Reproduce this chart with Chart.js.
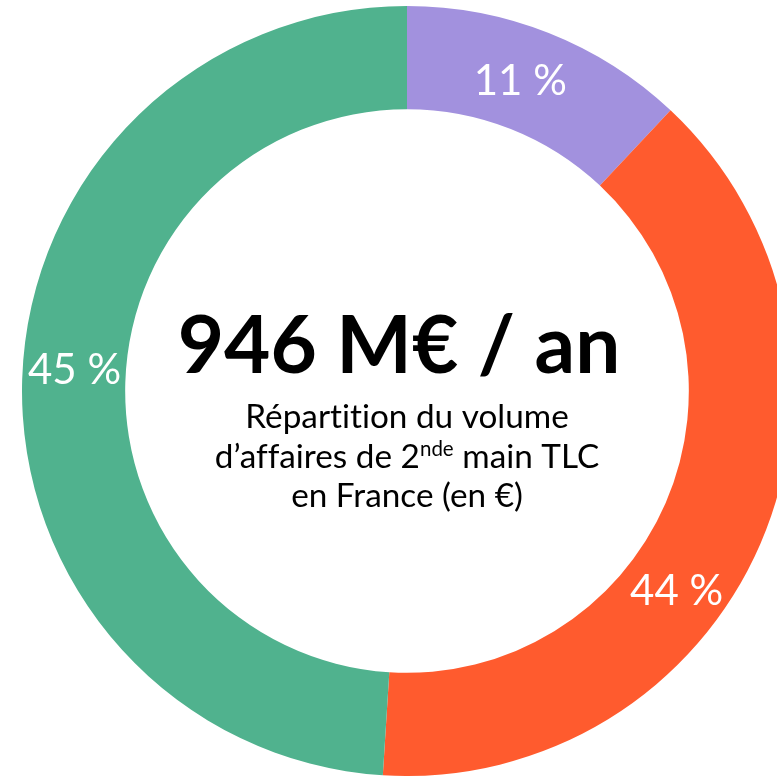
<!DOCTYPE html>
<html><head><meta charset="utf-8">
<script src="https://cdn.jsdelivr.net/npm/chart.js@4/dist/chart.umd.min.js"></script>
<style>
html,body{margin:0;padding:0;background:#fff;overflow:hidden;width:777px;height:777px;}
#wrap{position:absolute;left:22px;top:6px;width:770px;height:770px;}
</style></head>
<body>
<div id="wrap"><canvas id="c" width="770" height="770"></canvas></div>
<script>
const categories = ["Segment A", "Segment B", "Segment C"];
const values = [12, 39, 49];           // arc sizes as drawn
const labelTexts = ["11 %", "44 %", "45 %"]; // printed labels
const colors = ["#A291DE", "#FF5B2E", "#50B28E"];
const labelPos = [0.46, 0.59, 0.514];  // fraction along each arc
const title = "946 M€ / an";
const subtitleLines = ["Répartition du volume", ["d’affaires de 2", "nde", " main TLC"], "en France (en €)"];

const centerText = {
  id: 'centerText',
  afterDraw(chart) {
    const ctx = chart.ctx;
    const meta = chart.getDatasetMeta(0);
    const arc0 = meta.data[0];
    const cx = arc0.x, cy = arc0.y;
    ctx.save();
    ctx.letterSpacing = '0.01px';
    // segment labels
    ctx.fillStyle = '#fff';
    ctx.font = '42px Lato';
    ctx.textAlign = 'center';
    ctx.textBaseline = 'middle';
    meta.data.forEach((a, i) => {
      const ang = a.startAngle + (a.endAngle - a.startAngle) * labelPos[i];
      const r = (a.innerRadius + a.outerRadius) / 2;
      ctx.fillText(labelTexts[i], cx + Math.cos(ang) * r, cy + Math.sin(ang) * r + 4);
    });
    // title
    ctx.fillStyle = '#000';
    ctx.font = 'bold 80px Lato';
    ctx.textBaseline = 'alphabetic';
    ctx.fillText(title, cx - 8, cy - 18);
    // subtitle
    const F = '33.3px Lato', S = '20.5px Lato';
    const baseY = [cy + 37, cy + 77, cy + 116];
    subtitleLines.forEach((ln, i) => {
      if (typeof ln === 'string') {
        ctx.textAlign = 'center';
        ctx.font = F;
        ctx.fillText(ln, cx, baseY[i]);
      } else {
        ctx.font = F;
        const w0 = ctx.measureText(ln[0]).width;
        const w2 = ctx.measureText(ln[2]).width;
        ctx.font = S;
        const w1 = ctx.measureText(ln[1]).width;
        const total = w0 + w1 + w2;
        let x = cx - total / 2;
        ctx.textAlign = 'left';
        ctx.font = F;
        ctx.fillText(ln[0], x, baseY[i]); x += w0;
        ctx.font = S;
        ctx.fillText(ln[1], x, baseY[i] - 12); x += w1;
        ctx.font = F;
        ctx.fillText(ln[2], x, baseY[i]);
      }
    });
    ctx.restore();
  }
};

new Chart(document.getElementById('c'), {
  type: 'doughnut',
  data: {
    labels: categories,
    datasets: [{ data: values, backgroundColor: colors, borderWidth: 0 }]
  },
  options: {
    responsive: false,
    animation: false,
    cutout: '73.2%',
    layout: { padding: 0 },
    plugins: { legend: { display: false }, tooltip: { enabled: false } }
  },
  plugins: [centerText]
});
</script>
</body></html>
